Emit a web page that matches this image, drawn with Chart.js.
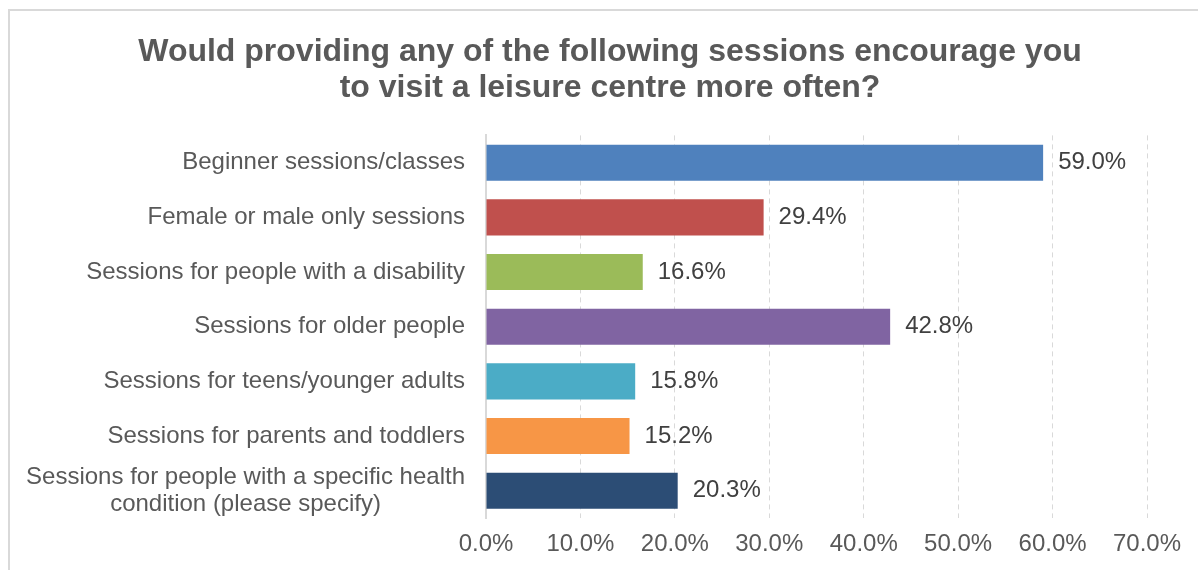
<!DOCTYPE html>
<html>
<head>
<meta charset="utf-8">
<script src="https://cdn.jsdelivr.net/npm/chart.js@4/dist/chart.umd.min.js"></script>
<style>
  body { margin: 0; background: #fff; }
  #frame { position: absolute; left: 8px; top: 9px; width: 1300px; height: 700px; border: 2px solid #D9D9D9; }
  #wrap { position: absolute; left: 0; top: 0; width: 1198px; height: 570px; }
</style>
</head>
<body>
<div id="frame"></div>
<div id="wrap"><canvas id="myChart" width="1198" height="570"></canvas></div>
<script>
let categories = [
  'Beginner sessions/classes',
  'Female or male only sessions',
  'Sessions for people with a disability',
  'Sessions for older people',
  'Sessions for teens/younger adults',
  'Sessions for parents and toddlers',
  ['Sessions for people with a specific health', 'condition (please specify)']
];
let values = [59.0, 29.4, 16.6, 42.8, 15.8, 15.2, 20.3];
let barColours = ['#4F81BD', '#C0504D', '#9BBB59', '#8064A2', '#4BACC6', '#F79646', '#2C4D75'];
let titleLines = ['Would providing any of the following sessions encourage you', 'to visit a leisure centre more often?'];

let fontName = "'Liberation Sans', Arial, sans-serif";

// category labels, right block, lines centred like Excel
let catLabels = {
  id: 'catLabels',
  afterDraw(chart) {
    let c = chart.ctx;
    let yScale = chart.scales.y;
    c.save();
    c.font = '24px ' + fontName;
    c.fillStyle = '#595959';
    c.textAlign = 'center';
    c.textBaseline = 'middle';
    categories.forEach((lab, i) => {
      let lines = Array.isArray(lab) ? lab : [lab];
      let w = Math.max(...lines.map(l => c.measureText(l).width));
      let cx = chart.chartArea.left - 21 - w / 2;
      let y = yScale.getPixelForValue(i);
      lines.forEach((l, j) => {
        c.fillText(l, cx, y + (j - (lines.length - 1) / 2) * 27);
      });
    });
    c.restore();
  }
};

// value labels after bar ends
let valueLabels = {
  id: 'valueLabels',
  afterDatasetsDraw(chart) {
    let c = chart.ctx;
    let meta = chart.getDatasetMeta(0);
    c.save();
    c.font = '24px ' + fontName;
    c.fillStyle = '#404040';
    c.textAlign = 'left';
    c.textBaseline = 'middle';
    meta.data.forEach((bar, i) => {
      c.fillText(values[i].toFixed(1) + '%', bar.x + 15, bar.y);
    });
    c.restore();
  }
};

let ctx = document.getElementById('myChart').getContext('2d');
let myChart = new Chart(ctx, {
  type: 'bar',
  data: {
    labels: categories,
    datasets: [{
      data: values,
      backgroundColor: barColours,
      borderWidth: 0,
      barPercentage: 0.66,
      categoryPercentage: 1
    }]
  },
  options: {
    indexAxis: 'y',
    responsive: false,
    animation: false,
    layout: { padding: { top: 35, right: 51, bottom: 0, left: 73 } },
    plugins: {
      legend: { display: false },
      tooltip: { enabled: false },
      title: {
        display: true,
        text: titleLines,
        color: '#595959',
        font: { family: fontName, size: 32, weight: 'bold', lineHeight: 1.1 },
        padding: { top: 0, bottom: 30 }
      }
    },
    scales: {
      x: {
        min: 0,
        max: 70,
        ticks: {
          stepSize: 10,
          padding: 12,
          color: '#595959',
          font: { family: fontName, size: 24 },
          callback: v => v.toFixed(1) + '%'
        },
        grid: { color: '#D9D9D9', lineWidth: 1, drawTicks: false },
        border: { display: false, dash: [5, 4] },
        afterFit(scale) { scale.height = 52; }
      },
      y: {
        ticks: { display: false },
        grid: { display: false },
        border: { display: true, color: '#D9D9D9', width: 2 },
        afterFit(scale) { scale.width = 413; }
      }
    }
  },
  plugins: [catLabels, valueLabels]
});
</script>
</body>
</html>
